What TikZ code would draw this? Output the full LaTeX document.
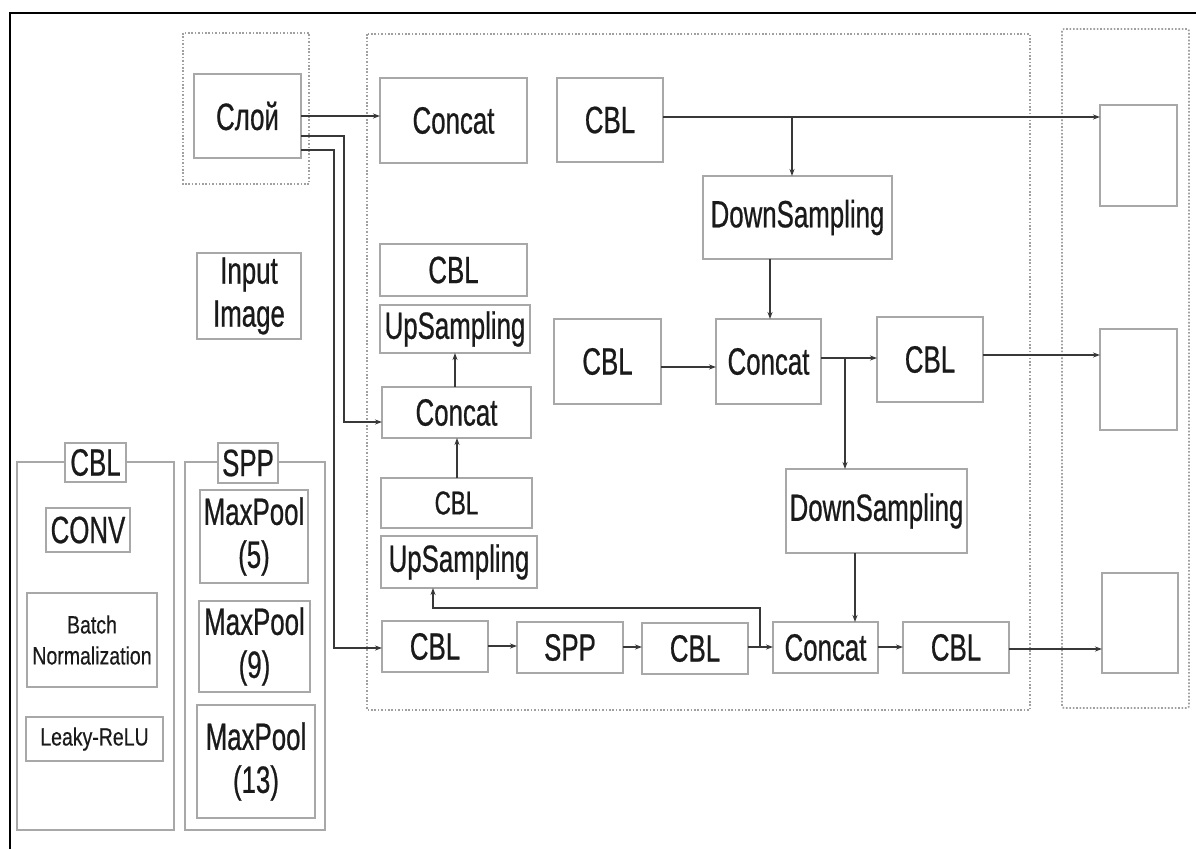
\documentclass[tikz,border=0pt]{standalone}
\usepackage{fontspec}
\setmainfont{Liberation Sans}[FakeStretch=0.68,FakeBold=0.6]
\newfontfamily\smallf{Liberation Sans}[FakeStretch=0.78,FakeBold=0.4]
\usetikzlibrary{arrows.meta}
\definecolor{boxc}{HTML}{A8A8A8}
\definecolor{linec}{HTML}{383838}
\definecolor{dotc}{HTML}{A0A0A0}
\definecolor{txt}{HTML}{1A1A1A}
\tikzset{
 box/.style={draw=boxc,line width=1.7pt,fill=white,inner sep=0pt,outer sep=0pt,text=txt,font=\fontsize{38}{43}\selectfont,align=center},
 smalltxt/.style={font=\smallf\fontsize{25}{31}\selectfont},
 arr/.style={draw=linec,line width=1.8pt,-{Stealth[length=7pt,width=5pt]}},
 grp/.style={draw=dotc,line width=1.7pt,dash pattern=on 1.6pt off 1.8pt},
}
\newcommand{\bx}[7][]{\node[box,minimum width={(#5-#3)*1pt},minimum height={(#6-#4)*1pt},#1] (#2) at ({(#3+#5)/2},{(#4+#6)/2}) {#7};}
\begin{document}
\begin{tikzpicture}[x=1pt,y=-1pt]
\useasboundingbox (0,0) rectangle (1196,849);
\fill[white] (0,0) rectangle (1196,849);
% outer frame
\draw[line width=2.6pt,black] (10,849) -- (10,13) -- (1196,13);
% dotted groups
\draw[grp] (183,33) rectangle (309,184);
\draw[grp] (367,34) rectangle (1030,710);
\draw[grp,rounded corners=2pt] (1062,29) rectangle (1189,708);
% left container groups
\bx{cblgrp}{17}{462}{174}{830}{}
\bx{sppgrp}{185}{462}{325}{830}{}
\bx{cbllab}{65}{443}{126}{482}{CBL}
\bx{spplab}{218}{443}{278}{483}{SPP}
\bx{conv}{46}{508}{130}{552}{CONV}
\bx[smalltxt]{bn}{27}{593}{157}{687}{Batch\\Normalization}
\bx[smalltxt]{relu}{26}{717}{163}{761}{Leaky-ReLU}
\bx{mp5}{200}{490}{308}{583}{MaxPool\\(5)}
\bx{mp9}{199}{601}{310}{692}{MaxPool\\(9)}
\bx{mp13}{197}{705}{315}{818}{MaxPool\\(13)}
% top-left
\bx{slo}{194}{74}{301}{158}{Слой}
\bx{inp}{197}{253}{301}{339}{Input\\Image}
% middle
\bx{cc1}{380}{78}{527}{163}{Concat}
\bx{cbl1}{557}{78}{663}{162}{CBL}
\bx{ds1}{703}{176}{892}{259}{DownSampling}
\bx{cbl2}{554}{319}{661}{404}{CBL}
\bx{cc2}{716}{319}{821}{404}{Concat}
\bx{cbl3}{877}{317}{983}{402}{CBL}
\bx{cblA}{380}{244}{527}{296}{CBL}
\bx{upA}{380}{305}{530}{353}{UpSampling}
\bx{ccA}{382}{387}{531}{438}{Concat}
\bx[font=\fontsize{33}{40}\selectfont]{cblB}{381}{478}{532}{528}{CBL}
\bx{upB}{381}{536}{537}{588}{UpSampling}
\bx{ds2}{786}{469}{967}{553}{DownSampling}
\bx{cblC}{382}{621}{488}{672}{CBL}
\bx{spp}{517}{622}{623}{673}{SPP}
\bx{cblD}{642}{623}{748}{674}{CBL}
\bx{cc3}{773}{622}{878}{673}{Concat}
\bx{cblE}{903}{622}{1009}{673}{CBL}
% outputs
\bx{out1}{1100}{105}{1177}{206}{}
\bx{out2}{1100}{329}{1177}{430}{}
\bx{out3}{1102}{573}{1178}{673}{}
% connectors
\draw[arr] (slo.east|-0,116) -- (cc1.west|-0,116);
\draw[arr] (slo.east|-0,136) -| (344,422) -- (ccA.west|-0,422);
\draw[arr] (slo.east|-0,150) -| (334,648) -- (cblC.west|-0,648);
\draw[arr] (cbl1.east|-0,117) -- (out1.west|-0,117);
\draw[arr] (792,117) -- (ds1.north-|792,0);
\draw[arr] (ds1.south-|770,0) -- (cc2.north-|770,0);
\draw[arr] (cbl2.east|-0,367) -- (cc2.west|-0,367);
\draw[arr] (cc2.east|-0,358) -- (cbl3.west|-0,358);
\draw[arr] (845,358) -- (ds2.north-|845,0);
\draw[arr] (cbl3.east|-0,355) -- (out2.west|-0,355);
\draw[arr] (ds2.south-|855,0) -- (cc3.north-|855,0);
\draw[arr] (ccA.north-|455,0) -- (upA.south-|455,0);
\draw[arr] (cblB.north-|457,0) -- (ccA.south-|457,0);
\draw[arr] (cblC.east|-0,646) -- (spp.west|-0,646);
\draw[arr] (spp.east|-0,647) -- (cblD.west|-0,647);
\draw[arr] (cblD.east|-0,647) -- (cc3.west|-0,647);
\draw[arr] (760,647) |- (433,608) -- (upB.south-|433,0);
\draw[arr] (cc3.east|-0,647) -- (cblE.west|-0,647);
\draw[arr] (cblE.east|-0,649) -- (out3.west|-0,649);
\end{tikzpicture}
\end{document}
